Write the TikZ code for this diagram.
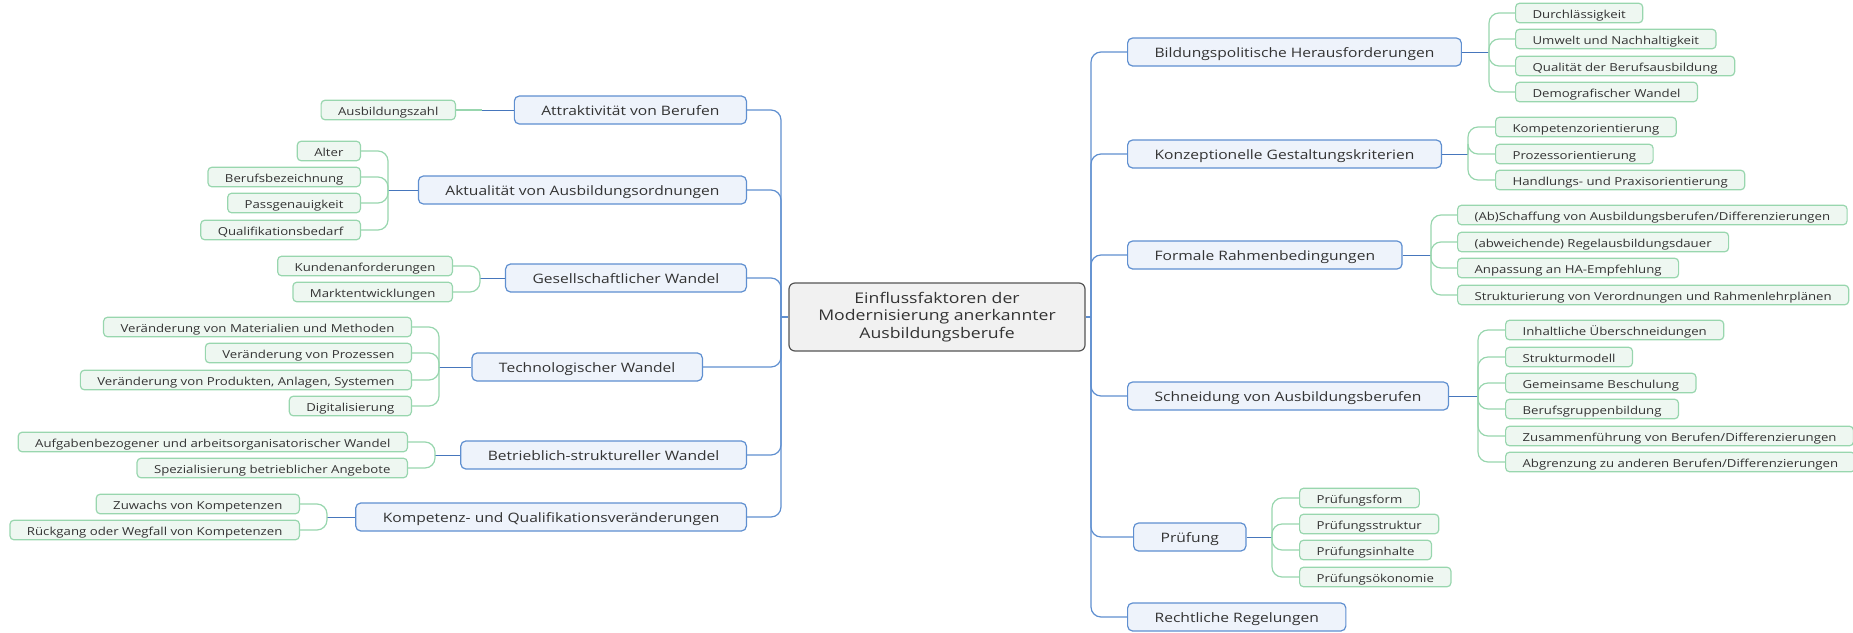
\documentclass[tikz,border=0pt]{standalone}
\usepackage{fontspec}
\setmainfont[FakeStretch=1.2]{Open Sans}
\usetikzlibrary{positioning}
\definecolor{topicline}{HTML}{5F8FD0}
\definecolor{topicfill}{HTML}{EEF3FB}
\definecolor{stemline}{HTML}{4676BC}
\definecolor{itemline}{HTML}{98D6AE}
\definecolor{itemfill}{HTML}{EEF7F1}
\definecolor{rootline}{HTML}{555555}
\definecolor{rootfill}{HTML}{F1F1F1}
\definecolor{txt}{HTML}{333333}
\tikzset{
  root/.style={draw=rootline, fill=rootfill, line width=0.6pt, rounded corners=3pt,
    minimum width=148pt, minimum height=34pt, align=center, text=txt,
    font=\fontsize{7.35}{8.6}\selectfont},
  topic/.style={draw=topicline, fill=topicfill, line width=0.6pt, rounded corners=2.5pt,
    minimum height=14pt, inner xsep=13.5pt, inner ysep=0pt, text=txt,
    text height=0.74em, text depth=0.24em,
    font=\fontsize{6.5}{7.5}\selectfont},
  item/.style={draw=itemline, fill=itemfill, line width=0.6pt, rounded corners=2pt,
    minimum height=9pt, inner xsep=8.5pt, inner ysep=0pt, text=txt,
    text height=0.74em, text depth=0.24em,
    font=\fontsize{5.5}{6.4}\selectfont},
  trunk/.style={draw=topicline, line width=0.6pt, rounded corners=5pt},
  stem/.style={draw=stemline, line width=0.5pt},
  twig/.style={draw=itemline, line width=0.6pt, rounded corners=5pt}
}
\begin{document}
\begin{tikzpicture}[x=0.5pt,y=-0.5pt]
  \useasboundingbox (0,0) rectangle (1853,632);
  \node[root] (root) at (937,317) {Einflussfaktoren der\\Modernisierung anerkannter\\Ausbildungsberufe};

  \node[topic, anchor=east] (attr) at (747,110) {Attraktivität von Berufen};
  \node[topic, anchor=east] (aktu) at (747,190) {Aktualität von Ausbildungsordnungen};
  \node[topic, anchor=east] (gesell) at (747,278) {Gesellschaftlicher Wandel};
  \node[topic, anchor=east] (techno) at (703,367) {Technologischer Wandel};
  \node[topic, anchor=east] (betrieb) at (747,455) {Betrieblich-struktureller Wandel};
  \node[topic, anchor=east] (kompet) at (747,517) {Kompetenz- und Qualifikationsveränderungen};

  \node[item, anchor=east] (ausb) at (456,110) {Ausbildungszahl};
  \node[item, anchor=east] (alter) at (361,151) {Alter};
  \node[item, anchor=east] (bezeich) at (361,177) {Berufsbezeichnung};
  \node[item, anchor=east] (passg) at (361,203) {Passgenauigkeit};
  \node[item, anchor=east] (qualbed) at (361,230) {Qualifikationsbedarf};
  \node[item, anchor=east] (kunden) at (453,266) {Kundenanforderungen};
  \node[item, anchor=east] (markt) at (453,292) {Marktentwicklungen};
  \node[item, anchor=east] (mat) at (412,327) {Veränderung von Materialien und Methoden};
  \node[item, anchor=east] (proz) at (412,353) {Veränderung von Prozessen};
  \node[item, anchor=east] (prod) at (412,380) {Veränderung von Produkten, Anlagen, Systemen};
  \node[item, anchor=east] (digi) at (412,406) {Digitalisierung};
  \node[item, anchor=east] (aufg) at (408,442) {Aufgabenbezogener und arbeitsorganisatorischer Wandel};
  \node[item, anchor=east] (spez) at (408,468) {Spezialisierung betrieblicher Angebote};
  \node[item, anchor=east] (zuw) at (300,504) {Zuwachs von Kompetenzen};
  \node[item, anchor=east] (rueck) at (300,530) {Rückgang oder Wegfall von Kompetenzen};

  \node[topic, anchor=west] (bild) at (1127,52) {Bildungspolitische Herausforderungen};
  \node[topic, anchor=west] (konz) at (1127,154) {Konzeptionelle Gestaltungskriterien};
  \node[topic, anchor=west] (formal) at (1127,255) {Formale Rahmenbedingungen};
  \node[topic, anchor=west] (schneid) at (1127,396) {Schneidung von Ausbildungsberufen};
  \node[topic, anchor=west] (pruef) at (1133,537) {Prüfung};
  \node[topic, anchor=west] (recht) at (1127,617) {Rechtliche Regelungen};

  \node[item, anchor=west] (durch) at (1515,13) {Durchlässigkeit};
  \node[item, anchor=west] (umwelt) at (1515,39) {Umwelt und Nachhaltigkeit};
  \node[item, anchor=west] (qual) at (1515,66) {Qualität der Berufsausbildung};
  \node[item, anchor=west] (demo) at (1515,92) {Demografischer Wandel};
  \node[item, anchor=west] (kompo) at (1495,127) {Kompetenzorientierung};
  \node[item, anchor=west] (prozo) at (1495,154) {Prozessorientierung};
  \node[item, anchor=west] (handl) at (1495,180) {Handlungs- und Praxisorientierung};
  \node[item, anchor=west] (absch) at (1457,215) {(Ab)Schaffung von Ausbildungsberufen/Differenzierungen};
  \node[item, anchor=west] (regel) at (1457,242) {(abweichende) Regelausbildungsdauer};
  \node[item, anchor=west] (anpass) at (1457,268) {Anpassung an HA-Empfehlung};
  \node[item, anchor=west] (strukt) at (1457,295) {Strukturierung von Verordnungen und Rahmenlehrplänen};
  \node[item, anchor=west] (inhalt) at (1505,330) {Inhaltliche Überschneidungen};
  \node[item, anchor=west] (strukm) at (1505,357) {Strukturmodell};
  \node[item, anchor=west] (gemein) at (1505,383) {Gemeinsame Beschulung};
  \node[item, anchor=west] (berufsg) at (1505,409) {Berufsgruppenbildung};
  \node[item, anchor=west] (zusam) at (1505,436) {Zusammenführung von Berufen/Differenzierungen};
  \node[item, anchor=west] (abgr) at (1505,462) {Abgrenzung zu anderen Berufen/Differenzierungen};
  \node[item, anchor=west] (pform) at (1299,498) {Prüfungsform};
  \node[item, anchor=west] (pstrukt) at (1299,524) {Prüfungsstruktur};
  \node[item, anchor=west] (pinh) at (1299,550) {Prüfungsinhalte};
  \node[item, anchor=west] (poek) at (1299,577) {Prüfungsökonomie};

  \coordinate (lt) at (781,317);
  \coordinate (rt) at (1091,317);
  \draw[trunk] (root.west) -- (lt);
  \draw[trunk] (root.east) -- (rt);
  \foreach \t in {attr,aktu,gesell,techno,betrieb,kompet}
    \draw[trunk] (lt) |- (\t.east);
  \foreach \t in {bild,konz,formal,schneid,pruef,recht}
    \draw[trunk] (rt) |- (\t.west);

  \coordinate (attr_b) at (482,110);
  \coordinate (aktu_b) at (388,190);
  \coordinate (gesell_b) at (480,278);
  \coordinate (techno_b) at (439,367);
  \coordinate (betrieb_b) at (435,455);
  \coordinate (kompet_b) at (327,517);
  \coordinate (bild_b) at (1489,52);
  \coordinate (konz_b) at (1468,154);
  \coordinate (formal_b) at (1431,255);
  \coordinate (schneid_b) at (1478,396);
  \coordinate (pruef_b) at (1272,537);

  \draw[stem] (attr.west) -- (attr_b);
  \draw[twig] (attr_b) -- (ausb.east);
  \draw[stem] (aktu.west) -- (aktu_b);
  \foreach \s in {alter,bezeich,passg,qualbed}
    \draw[twig] (aktu_b) |- (\s.east);
  \draw[stem] (gesell.west) -- (gesell_b);
  \foreach \s in {kunden,markt}
    \draw[twig] (gesell_b) |- (\s.east);
  \draw[stem] (techno.west) -- (techno_b);
  \foreach \s in {mat,proz,prod,digi}
    \draw[twig] (techno_b) |- (\s.east);
  \draw[stem] (betrieb.west) -- (betrieb_b);
  \foreach \s in {aufg,spez}
    \draw[twig] (betrieb_b) |- (\s.east);
  \draw[stem] (kompet.west) -- (kompet_b);
  \foreach \s in {zuw,rueck}
    \draw[twig] (kompet_b) |- (\s.east);

  \draw[stem] (bild.east) -- (bild_b);
  \foreach \s in {durch,umwelt,qual,demo}
    \draw[twig] (bild_b) |- (\s.west);
  \draw[stem] (konz.east) -- (konz_b);
  \foreach \s in {kompo,prozo,handl}
    \draw[twig] (konz_b) |- (\s.west);
  \draw[stem] (formal.east) -- (formal_b);
  \foreach \s in {absch,regel,anpass,strukt}
    \draw[twig] (formal_b) |- (\s.west);
  \draw[stem] (schneid.east) -- (schneid_b);
  \foreach \s in {inhalt,strukm,gemein,berufsg,zusam,abgr}
    \draw[twig] (schneid_b) |- (\s.west);
  \draw[stem] (pruef.east) -- (pruef_b);
  \foreach \s in {pform,pstrukt,pinh,poek}
    \draw[twig] (pruef_b) |- (\s.west);
\end{tikzpicture}
\end{document}
